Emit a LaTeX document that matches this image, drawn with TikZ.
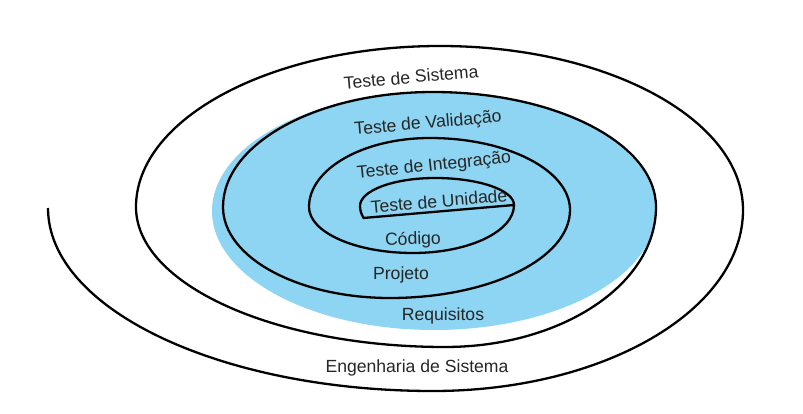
\documentclass[tikz,border=0pt]{standalone}
\usepackage{fontspec}
\setmainfont{Liberation Sans}
\definecolor{fillblue}{RGB}{141,213,243}
\tikzset{
  spiral/.style={line width=2.3pt, black},
  lbl/.style={font=\fontsize{17.6}{20}\selectfont, text=black!85, inner sep=0pt},
}
\begin{document}
\begin{tikzpicture}[x=1pt,y=1pt]
\useasboundingbox (0,0) rectangle (803,413);

% Blue region (Requisitos to Validacao)
\fill[fillblue] (434,202) ellipse (222 and 119);

% Spiral, from the free outer end inwards (quarter arcs)
\draw[spiral] (48,205)
  \foreach \rx/\ry [count=\i, evaluate=\i as \a using {mod(90+90*\i,360)}] in
    {385/183, 310/181, 303/164, 304/161,
     309/140, 211/140, 223/115, 210/115,
     167/91, 180/88, 140/72, 121/69,
     104/46, 101/48, 79/27, 75/28} {
    arc[start angle=\a, end angle=\a+90, x radius=\rx, y radius=\ry]
  }
  arc[start angle=180, end angle=200, x radius=60, y radius=35]
  -- (514,208);

% Labels
\node[lbl, rotate=5] (sistema) at (411,336) {Teste de Sistema};
\node[lbl, rotate=5] (validacao) at (428,289) {Teste de Validação};
\node[lbl, rotate=6] (integracao) at (434,247) {Teste de Integração};
\node[lbl, rotate=5] (unidade) at (439,212) {Teste de Unidade};
\node[lbl, rotate=2] (codigo) at (413,173) {Código};
\node[lbl] (projeto) at (401,138) {Projeto};
\node[lbl] (requisitos) at (443,97) {Requisitos};
\node[lbl] (engenharia) at (417,45) {Engenharia de Sistema};

\end{tikzpicture}
\end{document}
